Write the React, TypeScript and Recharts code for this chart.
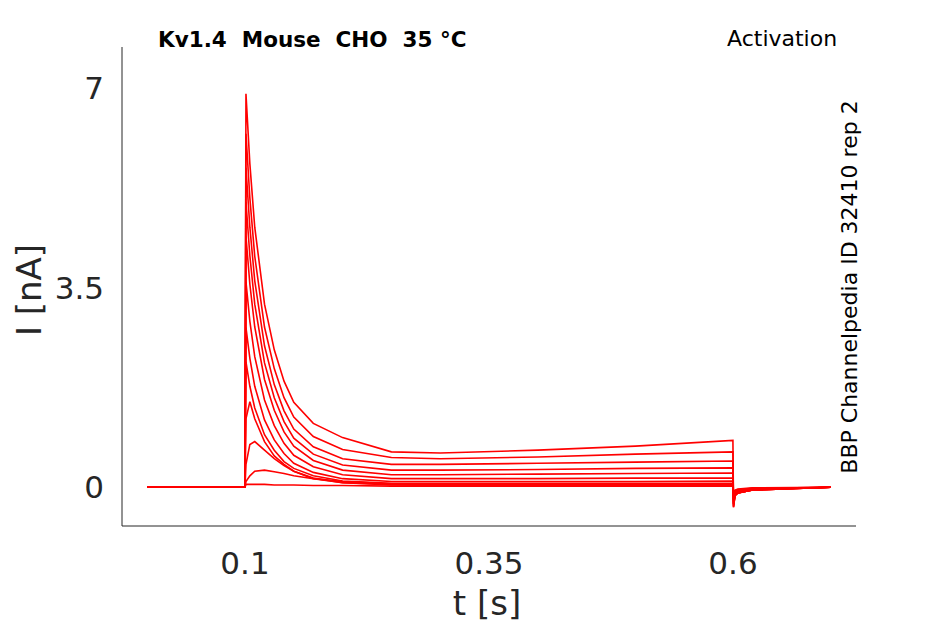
import React from 'react';
import { LineChart, Line, XAxis, YAxis, Customized } from 'recharts';

const times = [0, 0.099, 0.1, 0.101, 0.105, 0.11, 0.12, 0.13, 0.14, 0.15, 0.17, 0.2, 0.25, 0.3, 0.4, 0.5, 0.5999, 0.6005, 0.602, 0.605, 0.62, 0.7];

const sweeps: number[][] = [
  [0, 0, 0, 6.9, 5.67, 4.56, 3.21, 2.41, 1.86, 1.49, 1.12, 0.87, 0.62, 0.6, 0.65, 0.72, 0.82, -0.35, -0.15, -0.1, -0.05, 0],
  [0, 0, 0, 6.2, 5.07, 4.05, 2.81, 2.08, 1.57, 1.23, 0.89, 0.66, 0.52, 0.5, 0.53, 0.58, 0.62, -0.35, -0.15, -0.1, -0.05, 0],
  [0, 0, 0, 5.6, 4.56, 3.62, 2.48, 1.8, 1.34, 1.02, 0.71, 0.5, 0.4, 0.4, 0.42, 0.44, 0.46, -0.33, -0.15, -0.1, -0.05, 0],
  [0, 0, 0, 5.0, 4.06, 3.21, 2.18, 1.57, 1.15, 0.86, 0.58, 0.39, 0.3, 0.3, 0.31, 0.33, 0.34, -0.3, -0.14, -0.1, -0.05, 0],
  [0, 0, 0, 4.4, 3.56, 2.81, 1.89, 1.35, 0.97, 0.72, 0.47, 0.3, 0.22, 0.22, 0.23, 0.24, 0.25, -0.3, -0.14, -0.1, -0.05, 0],
  [0, 0, 0, 3.6, 2.91, 2.29, 1.53, 1.08, 0.77, 0.56, 0.36, 0.22, 0.15, 0.15, 0.15, 0.16, 0.16, -0.28, -0.13, -0.08, -0.04, 0],
  [0, 0, 0, 2.8, 2.26, 1.77, 1.18, 0.83, 0.59, 0.42, 0.26, 0.15, 0.1, 0.1, 0.1, 0.1, 0.11, -0.25, -0.12, -0.08, -0.04, 0],
  [0, 0, 0, 2.2, 1.77, 1.39, 0.92, 0.65, 0.45, 0.33, 0.2, 0.11, 0.07, 0.07, 0.07, 0.07, 0.07, -0.22, -0.1, -0.07, -0.03, 0],
  [0, 0, 0, 1.2, 1.5, 1.2, 0.8, 0.55, 0.4, 0.28, 0.15, 0.08, 0.05, 0.05, 0.05, 0.05, 0.05, -0.2, -0.1, -0.06, -0.03, 0],
  [0, 0, 0, 0.4, 0.75, 0.8, 0.65, 0.5, 0.38, 0.28, 0.16, 0.08, 0.04, 0.03, 0.03, 0.03, 0.03, -0.15, -0.08, -0.05, -0.02, 0],
  [0, 0, 0, 0.1, 0.2, 0.28, 0.3, 0.27, 0.24, 0.2, 0.15, 0.1, 0.06, 0.04, 0.03, 0.03, 0.03, -0.12, -0.06, -0.04, -0.02, 0],
  [0, 0, 0, 0.05, 0.05, 0.05, 0.05, 0.04, 0.04, 0.04, 0.03, 0.03, 0.02, 0.02, 0.02, 0.02, 0.02, -0.08, -0.05, -0.03, -0.01, 0],
];

const xTicks = [0.1, 0.35, 0.6];
const yTicks = [0, 3.5, 7];

const data = times.map((t, i) => {
  const row: Record<string, number> = { t };
  sweeps.forEach((s, k) => { row['s' + k] = s[i]; });
  return row;
});

const font = 'DejaVu Sans, sans-serif';

export default function App() {
  return (
    <div style={{ position: 'absolute', left: 0, top: 0, background: '#fff' }}>
      <LineChart width={945} height={624} data={data} margin={{ top: 47, right: 89, bottom: 38, left: 62 }}>
        <XAxis
          type="number"
          dataKey="t"
          domain={[-0.026, 0.726]}
          ticks={xTicks}
          height={60}
          tickSize={0}
          stroke="#262626"
          tick={{ fontSize: 31, fill: '#262626', fontFamily: font, dy: 24 }}
        />
        <YAxis
          type="number"
          domain={[-0.68, 7.72]}
          ticks={yTicks}
          width={60}
          tickSize={0}
          stroke="#262626"
          tick={{ fontSize: 31, fill: '#262626', fontFamily: font, dx: -16 }}
          tickFormatter={(v: number) => String(v)}
        />
        {sweeps.map((_, k) => (
          <Line key={k} dataKey={'s' + k} type="linear" stroke="#ff0000" strokeWidth={1.6} dot={false} isAnimationActive={false} />
        ))}
        <Customized
          component={() => (
            <g fontFamily={font} fill="#000">
              <text x={158} y={47} fontSize={21.5} fontWeight="bold" xmlSpace="preserve">{'Kv1.4  Mouse  CHO  35 °C'}</text>
              <text x={727} y={46} fontSize={22}>Activation</text>
              <text x={487} y={615} fontSize={34} textAnchor="middle" fill="#262626">t [s]</text>
              <text x={0} y={0} fontSize={34} textAnchor="middle" fill="#262626" transform="translate(41,290) rotate(-90)">I [nA]</text>
              <text x={0} y={0} fontSize={22} textAnchor="middle" transform="translate(857,287) rotate(-90)">BBP Channelpedia ID 32410 rep 2</text>
            </g>
          )}
        />
      </LineChart>
    </div>
  );
}
